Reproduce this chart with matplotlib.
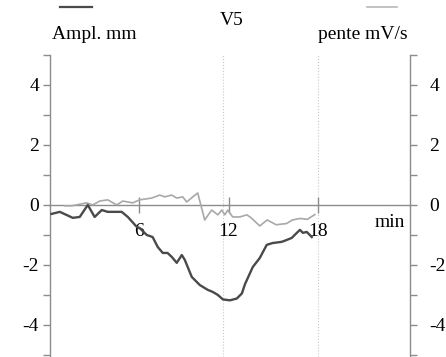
import numpy as np
import matplotlib
matplotlib.use("Agg")
from matplotlib import pyplot as plt
from matplotlib.lines import Line2D

plt.rcParams['font.family'] = ['Liberation Serif', 'DejaVu Serif']

# amplitude (mm) - dark curve
t_ampl = [0.1, 0.66, 1.53, 2.0, 2.54, 3.0, 3.48, 3.88, 4.82, 5.23, 5.83, 6.03, 6.5, 6.9,
          7.24, 7.58, 7.9, 8.18, 8.52, 8.86, 9.06, 9.53, 10.07, 10.6, 10.94, 11.28, 11.62,
          12.1, 12.56, 12.9, 13.1, 13.63, 14.1, 14.57, 14.97, 15.58, 15.9, 16.25, 16.45,
          16.8, 17.0, 17.26, 17.6]
ampl = [-0.30, -0.23, -0.43, -0.40, 0.0, -0.40, -0.17, -0.23, -0.23, -0.40, -0.73, -0.77,
        -1.0, -1.07, -1.4, -1.6, -1.6, -1.73, -1.93, -1.67, -1.83, -2.4, -2.67, -2.83, -2.9,
        -3.0, -3.15, -3.18, -3.12, -2.95, -2.65, -2.07, -1.77, -1.33, -1.27, -1.23, -1.17,
        -1.1, -1.0, -0.83, -0.93, -0.9, -1.07]

# pente (mV/s) - light curve
t_pente = [1.0, 1.46, 2.47, 2.87, 3.34, 3.88, 4.49, 4.89, 5.56, 6.03, 6.84, 7.38, 7.71,
           8.18, 8.52, 8.92, 9.19, 9.6, 9.93, 10.4, 10.87, 11.28, 11.55, 11.75, 11.95,
           12.28, 12.76, 13.23, 13.5, 14.1, 14.6, 15.2, 15.9, 16.3, 16.8, 17.3, 17.8]
pente = [-0.03, -0.03, 0.07, 0.0, 0.13, 0.17, 0.0, 0.13, 0.07, 0.17, 0.23, 0.33, 0.27,
         0.33, 0.23, 0.27, 0.10, 0.27, 0.40, -0.50, -0.17, -0.33, -0.17, -0.33, -0.17,
         -0.40, -0.40, -0.33, -0.42, -0.70, -0.50, -0.66, -0.62, -0.50, -0.45, -0.48, -0.32]

xticks = [6, 12, 18]
yticks = [-4, -2, 0, 2, 4]
ymin_ticks = [-5, -3, -1, 1, 3, 5]
vlines = [11.6, 18]

axcol = '#8c8c8c'
dark = '#4a4a4a'
light = '#a8a8a8'

fig = plt.figure(figsize=(4.46, 3.57), dpi=100)
ax = fig.add_axes([50 / 446, 0, 360 / 446, 302 / 357])
ax.set_xlim(0, 24.2)
ax.set_ylim(-5.07, 5)

for v in vlines:
    ax.axvline(v, color='#c8c8c8', lw=0.8, ls=':', zorder=0)

ax.plot(t_pente, pente, color=light, lw=1.2, zorder=3)
ax.plot(t_ampl, ampl, color=dark, lw=1.7, zorder=4)

ax.spines['top'].set_visible(False)
ax.spines['right'].set_visible(False)
ax.spines['bottom'].set_position(('data', 0))
for s in ['left', 'bottom']:
    ax.spines[s].set_color(axcol)
    ax.spines[s].set_linewidth(1.0)

ax.set_yticks(yticks)
ax.set_yticklabels([str(v) for v in yticks])
ax.set_yticks(ymin_ticks, minor=True)
ax.tick_params(axis='y', which='both', direction='out', length=5, width=1, color=axcol,
               labelsize=14, pad=3)
ax.set_xticks(xticks)
ax.set_xticklabels([str(v) for v in xticks])
ax.tick_params(axis='x', direction='inout', length=12, width=1, color=axcol,
               labelsize=14, pad=7)

# right hand axis (pente)
ax2 = ax.twinx()
ax2.set_ylim(ax.get_ylim())
for s in ['top', 'left', 'bottom']:
    ax2.spines[s].set_visible(False)
ax2.spines['right'].set_color(axcol)
ax2.spines['right'].set_linewidth(1.0)
ax2.set_yticks(yticks)
ax2.set_yticklabels([str(v) for v in yticks])
ax2.set_yticks(ymin_ticks, minor=True)
ax2.tick_params(axis='y', which='both', direction='out', length=5, width=1, color=axcol,
                labelsize=14, pad=9)

ax.text(23.85, -0.57, 'min', ha='right', va='center', fontsize=14)

# header texts and legend strokes
fig.text(232 / 446, 1 - 25 / 357, 'V5', ha='center', va='baseline', fontsize=14)
fig.text(52 / 446, 1 - 39 / 357, 'Ampl. mm', ha='left', va='baseline', fontsize=14)
fig.text(408 / 446, 1 - 39 / 357, 'pente mV/s', ha='right', va='baseline', fontsize=14)
fig.add_artist(Line2D([60 / 446, 92 / 446], [1 - 7 / 357] * 2, color=dark, lw=1.6,
                      transform=fig.transFigure))
fig.add_artist(Line2D([367 / 446, 397 / 446], [1 - 7 / 357] * 2, color='#b8b8b8', lw=1.2,
                      transform=fig.transFigure))

fig.savefig('out.png', dpi=100, facecolor='white')
